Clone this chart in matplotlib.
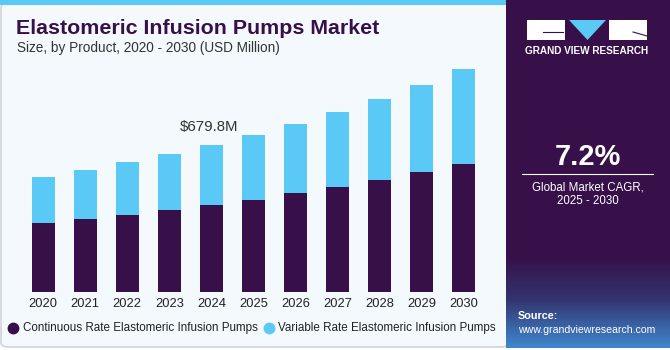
import numpy as np
import matplotlib
matplotlib.use('Agg')
import matplotlib.pyplot as plt
from matplotlib.patches import Rectangle, FancyBboxPatch, Polygon
from matplotlib.lines import Line2D
from matplotlib.colors import LinearSegmentedColormap

years = ['2020', '2021', '2022', '2023', '2024', '2025',
         '2026', '2027', '2028', '2029', '2030']
continuous = [317.7, 336.2, 356.1, 379.2, 400.9, 426.8,
              456.4, 485.5, 517.9, 554.9, 593.3]
variable = [215.5, 226.6, 243.7, 258.9, 278.9, 299.2,
            320.5, 346.9, 373.1, 402.3, 436.5]
series_names = ['Continuous Rate Elastomeric Infusion Pumps',
                'Variable Rate Elastomeric Infusion Pumps']
annot_year = '2024'
annot_text = '$679.8M'
cagr = '7.2%'

dark = '#37104a'
light_blue = '#5bc9f6'
W, H = 670, 350

plt.rcParams['font.family'] = ['Liberation Sans', 'DejaVu Sans']

fig = plt.figure(figsize=(W / 100, H / 100), dpi=100)
fig.patch.set_facecolor('white')


def fx(px):
    return px / W


def fy(py):
    return 1 - py / H


# left panel
fig.patches.append(FancyBboxPatch((fx(1), fy(347)), fx(508), fy(3) - fy(347),
                                  boxstyle='round,pad=0,rounding_size=0.012',
                                  transform=fig.transFigure, facecolor='#f3f9fd',
                                  edgecolor='#cfd3d8', linewidth=1.2, zorder=-2))
fig.patches.append(Rectangle((0, fy(5)), fx(506), fy(0) - fy(5),
                             transform=fig.transFigure, facecolor=light_blue,
                             edgecolor='none', zorder=-1))

# right panel with gradient at the bottom
grad = LinearSegmentedColormap.from_list(
    'g', [(0, dark), (0.74, dark), (0.86, '#33336e'), (1, '#3f86cc')])
gax = fig.add_axes([fx(506), fy(348), fx(670 - 506), fy(0) - fy(348)])
gax.imshow(np.linspace(0, 1, 300)[:, None], aspect='auto', cmap=grad,
           extent=[0, 1, 0, 1], origin='upper')
gax.axis('off')

# logo
lw = 38
for x0 in (527, 609):
    fig.patches.append(Rectangle((fx(x0), fy(40)), fx(lw), fy(20) - fy(40),
                                 transform=fig.transFigure, facecolor='white',
                                 edgecolor='none', zorder=5))
fig.patches.append(Polygon([(fx(569), fy(20)), (fx(606), fy(20)), (fx(587.5), fy(40))],
                           closed=True, transform=fig.transFigure,
                           facecolor=light_blue, edgecolor='none', zorder=5))
fig.lines.append(Line2D([fx(543), fx(563)], [fy(32), fy(32)], transform=fig.transFigure,
                        color=dark, lw=0.8, zorder=6))
fig.lines.append(Line2D([fx(633), fx(647)], [fy(32), fy(36)], transform=fig.transFigure,
                        color=dark, lw=0.8, zorder=6))
fig.text(fx(587), fy(51), 'GRAND VIEW RESEARCH', color='white', fontsize=7.2,
         fontweight='bold', ha='center', va='center')

fig.text(fx(588), fy(157), cagr, color='white', fontsize=21, fontweight='bold',
         ha='center', va='center')
fig.lines.append(Line2D([fx(522), fx(653)], [fy(173.5), fy(173.5)],
                        transform=fig.transFigure, color='white', lw=0.8))
fig.text(fx(588), fy(187), 'Global Market CAGR,', color='white', fontsize=8.3,
         ha='center', va='center')
fig.text(fx(588), fy(201), '2025 - 2030', color='white', fontsize=8.3,
         ha='center', va='center')
fig.text(fx(518), fy(316), 'Source:', color='white', fontsize=7.8, fontweight='bold',
         ha='left', va='center')
fig.text(fx(518), fy(330), 'www.grandviewresearch.com', color='white', fontsize=7.6,
         ha='left', va='center')

# titles
fig.text(fx(16), fy(28), 'Elastomeric Infusion Pumps Market', color=dark,
         fontsize=15.4, fontweight='bold', ha='left', va='center')
fig.text(fx(17), fy(48), 'Size, by Product, 2020 - 2030 (USD Million)', color='#333333',
         fontsize=9.8, ha='left', va='center')

# chart
px_per_unit = 147 / 679.8
ax = fig.add_axes([fx(20), fy(292), fx(470), fy(60) - fy(292)], zorder=3)
ax.set_xlim((20 - 43.2) / 42.03, (490 - 43.2) / 42.03)
ax.set_ylim(0, 232 / px_per_unit)
x = np.arange(len(years))
ax.bar(x, continuous, width=0.55, color=dark, edgecolor='none')
ax.bar(x, variable, width=0.55, bottom=continuous, color=light_blue, edgecolor='none')
ax.set_xticks(x)
ax.set_xticklabels(years, fontsize=9.3, color='#222222')
ax.tick_params(axis='x', length=0, pad=4)
ax.set_yticks([])
for s in ax.spines.values():
    s.set_visible(False)
ax.patch.set_alpha(0)

i = years.index(annot_year)
ax.annotate(annot_text, (x[i], continuous[i] + variable[i]), xytext=(-1.7, 8),
            textcoords='offset points', ha='center', va='bottom',
            fontsize=10.8, color='#333333')

# legend
fig.lines.append(Line2D([fx(13)], [fy(327.5)], marker='o', markersize=7.5, color=dark,
                        linestyle='none', transform=fig.transFigure))
fig.text(fx(23), fy(327.5), series_names[0], fontsize=8.4, color='#222222',
         ha='left', va='center')
fig.lines.append(Line2D([fx(269)], [fy(327.5)], marker='o', markersize=7.5,
                        color=light_blue, linestyle='none', transform=fig.transFigure))
fig.text(fx(278), fy(327.5), series_names[1], fontsize=8.4, color='#222222',
         ha='left', va='center')

fig.savefig('out.png', dpi=100, facecolor=fig.get_facecolor())
